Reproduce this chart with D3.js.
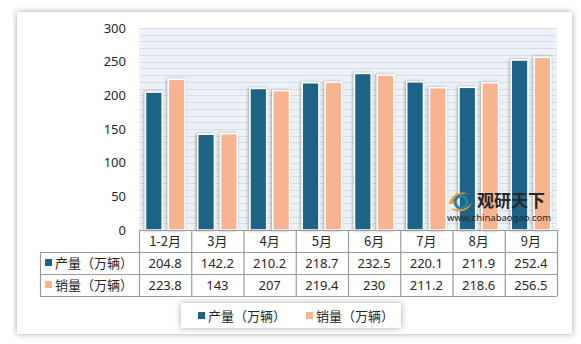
<!DOCTYPE html>
<html>
<head>
<meta charset="utf-8">
<script src="https://cdn.jsdelivr.net/npm/d3@7"></script>
<style>
  body { margin: 0; background: #fff; }
  svg { display: block; }
  text { font-family: "Noto Sans", "Noto Sans CJK SC", sans-serif; fill: #262626; }
  .zh { font-family: "Noto Sans CJK SC", sans-serif; }
</style>
</head>
<body>
<div id="graf"></div>
<script>
// datos
categorias = ['1-2月', '3月', '4月', '5月', '6月', '7月', '8月', '9月']
series = ['产量（万辆）', '销量（万辆）']
produccion = [204.8, 142.2, 210.2, 218.7, 232.5, 220.1, 211.9, 252.4]
ventas = [223.8, 143, 207, 219.4, 230, 211.2, 218.6, 256.5]
ticksY = [0, 50, 100, 150, 200, 250, 300]
colores = ['#1b6487', '#f8b48f']

ancho_total = 581
alto_total = 344
plot = { left: 139, right: 557, top: 28, bottom: 230 }

svg = d3.select('#graf').append('svg')
        .attr('width', ancho_total)
        .attr('height', alto_total)

defs = svg.append('defs')
sombra = defs.append('filter').attr('id', 'sombra')
             .attr('x', '-20%').attr('y', '-20%').attr('width', '140%').attr('height', '140%')
sombra.append('feDropShadow').attr('dx', 0).attr('dy', 0).attr('stdDeviation', 3)
      .attr('flood-color', '#000').attr('flood-opacity', 0.35)
sombraBar = defs.append('filter').attr('id', 'sombraBar')
             .attr('x', '-50%').attr('y', '-10%').attr('width', '200%').attr('height', '120%')
sombraBar.append('feDropShadow').attr('dx', -1).attr('dy', 0).attr('stdDeviation', 1.6)
      .attr('flood-color', '#000').attr('flood-opacity', 0.35)

// tarjeta
svg.append('rect')
   .attr('x', 17).attr('y', 12).attr('width', 555).attr('height', 322)
   .attr('fill', '#fff')
   .attr('filter', 'url(#sombra)')

// escalas
y = d3.scaleLinear().domain([0, 300]).range([plot.bottom, plot.top])
x = d3.scaleBand().domain(categorias).range([plot.left, plot.right])
xs = d3.scaleBand().domain(series).range([6.5, 46]).paddingInner(0.27)

// fondo y rejilla
svg.append('rect')
   .attr('x', plot.left).attr('y', plot.top)
   .attr('width', plot.right - plot.left).attr('height', plot.bottom - plot.top)
   .attr('fill', '#ecf2f8')

svg.append('g')
   .selectAll('line')
   .data(d3.range(10, 301, 10))
   .join('line')
     .attr('x1', plot.left).attr('x2', plot.right)
     .attr('y1', d => Math.round(y(d)) + 0.5)
     .attr('y2', d => Math.round(y(d)) + 0.5)
     .attr('stroke', '#d6dde4')
     .attr('stroke-width', 1)

// eje y
yAxis = svg.append('g')
           .attr('transform', `translate(${plot.left}, 0)`)
           .call(d3.axisLeft(y).tickValues(ticksY).tickSize(0).tickPadding(13))
yAxis.select('.domain').remove()
yAxis.selectAll('text')
     .style('font-size', '13px')
     .attr('fill', '#262626')

// barras
datos = categorias.map((c, i) => ({ cat: c, valores: [produccion[i], ventas[i]] }))

grupos = svg.append('g')
            .selectAll('g')
            .data(datos)
            .join('g')
              .attr('transform', d => `translate(${x(d.cat)}, 0)`)

grupos.selectAll('rect')
      .data(d => d.valores.map((v, j) => ({ serie: series[j], valor: v, j: j })))
      .join('rect')
        .attr('x', d => xs(d.serie))
        .attr('y', d => y(d.valor))
        .attr('width', xs.bandwidth())
        .attr('height', d => y(0) - y(d.valor))
        .attr('fill', d => colores[d.j])
        .attr('stroke', '#fff')
        .attr('stroke-width', 1.5)
        .attr('filter', 'url(#sombraBar)')

// marca de agua
wm = svg.append('g').attr('transform', 'translate(447, 188)')
wm.append('path')
  .attr('d', 'M2,16 C4,6 14,2 22,6 C14,4 7,9 6,16 Z')
  .attr('fill', '#f39a2c')
wm.append('path')
  .attr('d', 'M4,20 C10,26 22,24 25,14 C22,20 14,23 4,20 Z')
  .attr('fill', '#f39a2c')
wm.append('circle').attr('cx', 14).attr('cy', 14).attr('r', 6)
  .attr('fill', 'none').attr('stroke', '#2a7fa6').attr('stroke-width', 3)
wm.append('text').attr('class', 'zh')
  .attr('x', 30).attr('y', 19)
  .style('font-size', '17px').style('font-weight', 'bold')
  .attr('fill', '#1a1a1a')
  .text('观研天下')
wm.append('text')
  .attr('x', 0).attr('y', 33)
  .style('font-size', '9.5px')
  .attr('fill', '#333')
  .text('www.chinabaogao.com')

// tabla de datos
filas = [plot.bottom, 252, 274, 296]
lineaColor = '#9a9a9a'
tabla = svg.append('g')

// líneas horizontales
tabla.append('line').attr('x1', plot.left).attr('x2', plot.right)
     .attr('y1', filas[0] + 0.5).attr('y2', filas[0] + 0.5)
     .attr('stroke', lineaColor).attr('stroke-width', 1.2)
filas.slice(1).forEach(fy => {
  tabla.append('line').attr('x1', 40).attr('x2', plot.right)
       .attr('y1', fy + 0.5).attr('y2', fy + 0.5)
       .attr('stroke', lineaColor).attr('stroke-width', 1.2)
})
// líneas verticales
tabla.append('line').attr('x1', 40.5).attr('x2', 40.5)
     .attr('y1', filas[1]).attr('y2', filas[3])
     .attr('stroke', lineaColor).attr('stroke-width', 1.2)
categorias.concat(['__fin']).forEach((c, i) => {
  xx = plot.left + i * x.bandwidth()
  tabla.append('line').attr('x1', xx + 0.5).attr('x2', xx + 0.5)
       .attr('y1', filas[0]).attr('y2', filas[3])
       .attr('stroke', lineaColor).attr('stroke-width', 1.2)
})

// encabezados
tabla.selectAll('.cab')
     .data(categorias)
     .join('text')
       .attr('class', 'cab zh')
       .attr('x', d => x(d) + x.bandwidth() / 2)
       .attr('y', (filas[0] + filas[1]) / 2 + 5)
       .attr('text-anchor', 'middle')
       .style('font-size', '13px')
       .text(d => d)

;[produccion, ventas].forEach((vals, j) => {
  cy = (filas[j + 1] + filas[j + 2]) / 2
  tabla.append('rect')
       .attr('x', 45).attr('y', cy - 4).attr('width', 7).attr('height', 7)
       .attr('fill', colores[j])
  tabla.append('text').attr('class', 'zh')
       .attr('x', 55).attr('y', cy + 5)
       .style('font-size', '13px')
       .text(series[j])
  tabla.selectAll('.v' + j)
       .data(vals)
       .join('text')
         .attr('class', 'v' + j)
         .attr('x', (d, i) => x(categorias[i]) + x.bandwidth() / 2)
         .attr('y', cy + 5)
         .attr('text-anchor', 'middle')
         .style('font-size', '13px')
         .text(d => d)
})

// leyenda
leyenda = svg.append('g')
leyenda.append('rect')
       .attr('x', 181).attr('y', 303).attr('width', 220).attr('height', 25)
       .attr('fill', '#fff')
       .attr('filter', 'url(#sombra)')
legX = [198, 306]
series.forEach((s, j) => {
  leyenda.append('rect')
         .attr('x', legX[j]).attr('y', 312).attr('width', 7).attr('height', 7)
         .attr('fill', colores[j])
  leyenda.append('text').attr('class', 'zh')
         .attr('x', legX[j] + 10).attr('y', 321)
         .style('font-size', '13px')
         .text(s)
})
</script>
</body>
</html>
